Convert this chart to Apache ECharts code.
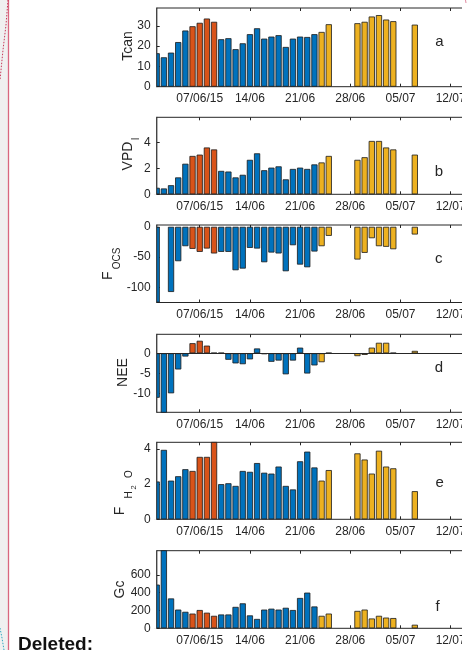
<!DOCTYPE html>
<html><head><meta charset="utf-8">
<script src="https://cdn.jsdelivr.net/npm/echarts@6/dist/echarts.min.js"></script>
<style>html,body{margin:0;padding:0;background:#fff;}#c{width:469px;height:650px;}</style>
</head><body><div id="c"></div>
<script>
// ---- data (day of June 2015; 31 = 01/07) ----
const days  = [1,2,3,4,5,6,7,8,9,10,11,12,13,14,15,16,17,18,19,20,21,22,23,24,25,29,30,31,32,33,34,37];
const phase = ['b','b','b','b','b','o','o','o','o','b','b','b','b','b','b','b','b','b','b','b','b','b','b','y','y','y','y','y','y','y','y','y'];
const tickDays   = [7,14,21,28,35,42];
const tickLabels = ['07/06/15','14/06','21/06','28/06','05/07','12/07'];

const tcan = [16.5,14.5,16.8,22,27.7,29.8,31.5,33.6,32,23.4,23.9,18.5,21.4,25.9,28.8,23.7,24.7,25.4,19.6,23.7,24.7,24.5,25.9,27,30.8,31.3,32,34.6,35.3,33.1,32.3,30.6];
const vpd  = [0.5,0.45,0.7,1.3,2.35,2.95,3.05,3.6,3.45,1.8,1.75,1.3,1.5,2.65,3.15,1.85,2.05,2.15,1.15,1.95,2.05,1.95,2.3,2.45,2.95,2.65,2.85,4.1,4.1,3.6,3.45,3.05];
const focs = [-125,null,-107.6,-56.8,-32,-36.4,-41.4,-35.9,-44,-41.4,-41.4,-71.7,-69,-34.8,-35.9,-58.5,-42.5,-44,-73.4,-30.4,-62.4,-66.8,-40.8,-32,-14.9,-54,-43,-18.8,-32,-33,-37,-12.7];
const nee  = [-11,-15,-9.9,-4,-0.8,2.5,3.1,1.9,0.12,0.12,-1.6,-2.5,-2.7,-1.5,1.2,-0.2,-2.1,-1.8,-5.2,-1.8,1.4,-5,-3,-2.2,0.12,-0.7,-0.4,1.4,2.6,2.6,0.12,0.6];
const fh2o = [2.15,3.95,2.2,2.45,2.85,2.75,3.55,3.55,4.4,2.0,2.05,1.9,2.75,2.7,3.2,2.65,2.6,3.0,1.9,1.7,3.3,3.85,2.95,2.2,2.8,3.75,3.4,2.6,3.9,3.0,2.9,1.6];
const gc   = [490,880,335,210,185,165,205,175,140,155,155,240,280,145,105,210,220,210,230,205,340,400,245,140,165,195,210,110,140,120,115,40];

const yTicksA = [0,10,20,30];
const yTicksB = [0,2,4];
const yTicksC = [-100,-50,0];
const yTicksD = [-10,-5,0];
const yTicksE = [0,2,4];
const yTicksF = [0,200,400,600];

// ---- layout ----
const colors = {b:'#0072BD', o:'#D95319', y:'#EDB120'};
const ink = '#262626';
const FONT = 'Liberation Sans';
const panels = [
  {vals:tcan, ticks:yTicksA, min:0,     max:38.8, top:8,     h:78.7},
  {vals:vpd,  ticks:yTicksB, min:0,     max:5.92, top:117.3, h:77},
  {vals:focs, ticks:yTicksC, min:-125,  max:3,    top:225,   h:77.5},
  {vals:nee,  ticks:yTicksD, min:-14.6, max:4.7,  top:334.3, h:78},
  {vals:fh2o, ticks:yTicksE, min:0,     max:4.38, top:442.3, h:77},
  {vals:gc,   ticks:yTicksF, min:0,     max:870,  top:550.7, h:77.6}
];
const LEFT = 156.7, RIGHTPX = 465;
const grid=[], xAxis=[], yAxis=[], series=[], masks=[];
panels.forEach((p,i)=>{
  grid.push({left:LEFT, top:p.top, width:RIGHTPX-LEFT, height:p.h, show:true, borderColor:ink, borderWidth:1, backgroundColor:'transparent'});
  const xa = (pos, labels)=>({type:'value', gridIndex:i, position:pos, min:1, max:44,
    axisLine:{show:false, onZero:false},
    splitLine:{show:false},
    axisTick:{show:true, inside:true, length:3, lineStyle:{color:ink}, customValues:tickDays},
    axisLabel:{show:labels, customValues:tickDays, margin:6, fontSize:12, fontFamily:FONT, color:ink,
      formatter:(v)=>tickLabels[tickDays.indexOf(v)]}});
  xAxis.push(xa('bottom', true));
  xAxis.push(xa('top', false));
  yAxis.push({type:'value', gridIndex:i, min:p.min, max:p.max,
    axisLine:{show:false, onZero:false}, splitLine:{show:false},
    axisTick:{show:true, inside:true, length:3, lineStyle:{color:ink}, customValues:p.ticks},
    axisLabel:{customValues:p.ticks, margin:6, fontSize:12, fontFamily:FONT, color:ink}});
  const s = {type:'bar', xAxisIndex:2*i, yAxisIndex:i, barWidth:6.2, clip:true,
    data: days.map((d,k)=>({value:[d,p.vals[k]], itemStyle:{color:colors[phase[k]]}})).filter(o=>o.value[1]!==null),
    itemStyle:{borderColor:'#1a1a1a', borderWidth:0.8}, silent:true, animation:false};
  if(i===3){
    s.markLine={silent:true, symbol:'none', label:{show:false}, lineStyle:{color:ink, width:1, type:'solid'}, data:[{yAxis:0}]};
  }
  series.push(s);
  // mask the part of the first bar that lies left of the plot box, then redraw the box edge
  masks.push({type:'rect', shape:{x:151.5, y:p.top-0.5, width:LEFT-151.5, height:p.h+1}, style:{fill:'#fff'}, z:100});
  masks.push({type:'line', shape:{x1:LEFT, y1:p.top-0.5, x2:LEFT, y2:p.top+p.h+0.5}, style:{stroke:ink, lineWidth:1}, z:101});
});

const rt = (text,x,y,size)=>({type:'text', x, y, rotation:Math.PI/2, z:50,
  style:{text, fontSize:size, fontFamily:FONT, fill:ink, align:'center', verticalAlign:'middle'}});
const tt = (text,x,y,size)=>({type:'text', x, y, z:50,
  style:{text, fontSize:size, fontFamily:FONT, fill:ink, align:'center', verticalAlign:'middle'}});

const graphic = [
  {type:'rect', shape:{x:0,y:0,width:8,height:650}, style:{fill:'#f0f0f0'}, z:1},
  {type:'line', shape:{x1:8.5,y1:0,x2:8.5,y2:650}, style:{stroke:'#d9677f', lineWidth:1.3}, z:2},
  {type:'polyline', shape:{points:[[8,0],[6,25],[3,50],[0,80]]}, style:{stroke:'#c8385a', lineWidth:1, lineDash:[1.5,1.5], fill:null}, z:2},
  {type:'polyline', shape:{points:[[0,628],[2,638],[4,650]]}, style:{stroke:'#30a8c0', lineWidth:1, lineDash:[1.5,1.5], fill:null}, z:2},
  {type:'text', x:18, y:635, z:50, style:{text:'Deleted:', fontSize:19, fontWeight:'bold', fontFamily:FONT, fill:'#111', align:'left', verticalAlign:'top'}},
  rt('Tcan',128.6,46,14),
  rt('VPD',128.6,156,14), rt('l',136.3,139,10),
  rt('F',108.3,275.8,14), rt('OCS',117.3,258.5,10),
  rt('NEE',123.6,372.5,14),
  rt('F',120.3,511,14), rt('H',129,495,10), rt('2',133.5,487.5,7.5), rt('O',129,474,10),
  rt('Gc',120.3,589.5,14),
  tt('a',439.5,42,15), tt('b',439,172,15), tt('c',438.7,259,15), tt('d',439,368,15), tt('e',439.7,483,15), tt('f',437.5,606.7,15),
  ...masks,
  {type:'rect', shape:{x:462,y:0,width:7,height:650}, style:{fill:'#fff'}, z:100},
  {type:'line', shape:{x1:465.5,y1:0,x2:466,y2:3}, style:{stroke:'#e08aa0', lineWidth:1}, z:101}
];

const chart = echarts.init(document.getElementById('c'), null, {renderer:'canvas'});
chart.setOption({animation:false, backgroundColor:'#fff', grid, xAxis, yAxis, series, graphic});
</script></body></html>
